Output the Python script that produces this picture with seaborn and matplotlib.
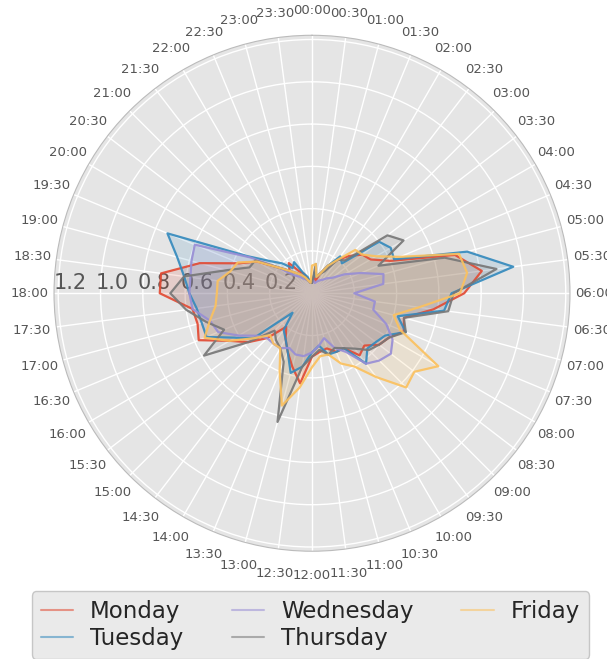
import numpy as np
import pandas as pd
import matplotlib.pyplot as plt
from matplotlib.lines import Line2D
from matplotlib.transforms import ScaledTranslation
import seaborn as sns

# half-hour slots, 00:00 at the top, running clockwise
times = ["%02d:%02d" % (h, m) for h in range(24) for m in (0, 30)]
days = ["Monday", "Tuesday", "Wednesday", "Thursday", "Friday"]
colors = ["#E24A33", "#348ABD", "#988ED5", "#777777", "#FBC15E"]

monday = [0.05, 0.08, 0.06, 0.10, 0.15, 0.20, 0.25, 0.30, 0.32, 0.40, 0.70, 0.81,
          0.72, 0.58, 0.45, 0.47, 0.42, 0.40, 0.35, 0.37, 0.30, 0.30, 0.27, 0.28,
          0.30, 0.43, 0.36, 0.30, 0.25, 0.20, 0.30, 0.38, 0.45, 0.58, 0.56, 0.57,
          0.72, 0.72, 0.55, 0.37, 0.30, 0.20, 0.15, 0.18, 0.12, 0.10, 0.07, 0.05]
tuesday = [0.05, 0.10, 0.08, 0.10, 0.15, 0.22, 0.20, 0.40, 0.43, 0.42, 0.76, 0.96,
           0.66, 0.63, 0.42, 0.48, 0.40, 0.38, 0.37, 0.42, 0.30, 0.30, 0.30, 0.25,
           0.28, 0.35, 0.39, 0.30, 0.25, 0.22, 0.13, 0.35, 0.42, 0.54, 0.54, 0.55,
           0.58, 0.61, 0.66, 0.74, 0.35, 0.25, 0.20, 0.15, 0.17, 0.10, 0.08, 0.05]
wednesday = [0.05, 0.06, 0.05, 0.06, 0.07, 0.08, 0.10, 0.12, 0.18, 0.25, 0.35, 0.34,
             0.20, 0.30, 0.30, 0.38, 0.44, 0.47, 0.45, 0.42, 0.32, 0.28, 0.22, 0.25,
             0.28, 0.30, 0.30, 0.28, 0.30, 0.30, 0.30, 0.33, 0.40, 0.48, 0.50, 0.57,
             0.58, 0.58, 0.59, 0.60, 0.34, 0.20, 0.12, 0.10, 0.08, 0.07, 0.06, 0.05]
thursday = [0.05, 0.14, 0.08, 0.10, 0.12, 0.20, 0.22, 0.45, 0.50, 0.34, 0.65, 0.88,
            0.67, 0.65, 0.45, 0.48, 0.42, 0.40, 0.38, 0.33, 0.30, 0.28, 0.30, 0.27,
            0.30, 0.35, 0.63, 0.35, 0.30, 0.28, 0.25, 0.38, 0.59, 0.45, 0.52, 0.60,
            0.67, 0.61, 0.42, 0.32, 0.31, 0.20, 0.15, 0.12, 0.10, 0.08, 0.06, 0.05]
friday = [0.13, 0.14, 0.08, 0.10, 0.15, 0.20, 0.29, 0.30, 0.35, 0.45, 0.72, 0.74,
          0.70, 0.51, 0.40, 0.45, 0.69, 0.61, 0.63, 0.50, 0.40, 0.36, 0.30, 0.30,
          0.35, 0.45, 0.55, 0.40, 0.30, 0.30, 0.28, 0.35, 0.45, 0.55, 0.50, 0.46,
          0.45, 0.45, 0.40, 0.38, 0.30, 0.20, 0.15, 0.12, 0.10, 0.08, 0.06, 0.05]
series = [monday, tuesday, wednesday, thursday, friday]

r_ticks = [0.2, 0.4, 0.6, 0.8, 1.0, 1.2]

sns.set_theme(style="darkgrid", rc={
    "axes.facecolor": "#E5E5E5",
    "grid.color": "white",
    "axes.edgecolor": "#BBBBBB",
})

angles = np.linspace(0, 2 * np.pi, len(times), endpoint=False)

rows = []
for day, vals in zip(days, series):
    closed_t = list(angles) + [2 * np.pi]
    closed_v = list(vals) + [vals[0]]
    for t, v in zip(closed_t, closed_v):
        rows.append({"theta": t, "value": v, "day": day})
df = pd.DataFrame(rows)

fig = plt.figure(figsize=(6.07, 6.59), dpi=100)
ax = fig.add_axes([0.089, 0.1635, 0.85, 0.783], projection="polar")
ax.set_theta_zero_location("N")
ax.set_theta_direction(-1)

sns.lineplot(data=df, x="theta", y="value", hue="day", hue_order=days,
             palette=colors, ax=ax, legend=False, linewidth=1.6, alpha=0.9)
for day, c in zip(days, colors):
    sub = df[df["day"] == day]
    ax.fill(sub["theta"], sub["value"], color=c, alpha=0.15)

ax.set_xticks(angles)
ax.set_xticklabels(times, fontsize=9.5, color="#555555")
ax.tick_params(axis="x", pad=4.5)

ax.set_ylim(0, 1.22)
ax.set_yticks(r_ticks)
ax.set_yticklabels(["%.1f" % r for r in r_ticks], fontsize=15, color="#555555")
ax.set_rlabel_position(270)
# nudge the radius labels a little to the left
shift = ScaledTranslation(-5 / 100, 0, fig.dpi_scale_trans)
for lbl in ax.get_yticklabels():
    lbl.set_transform(lbl.get_transform() + shift)
ax.set_xlabel("")
ax.set_ylabel("")
ax.grid(color="white", linewidth=1)
ax.spines["polar"].set_color("#BBBBBB")
ax.spines["polar"].set_linewidth(0.8)

handles = [Line2D([], [], color=c, alpha=0.55, lw=1.5) for c in colors]
fig.legend(handles, days, loc="upper center", bbox_to_anchor=(0.5115, 0.1032),
           borderaxespad=0, ncol=3, fontsize=16.5, frameon=True,
           facecolor="#E5E5E5", edgecolor="#BBBBBB", handlelength=1.4,
           handletextpad=0.75, columnspacing=2.1, labelspacing=0.15)

fig.savefig("out.png", dpi=100)
